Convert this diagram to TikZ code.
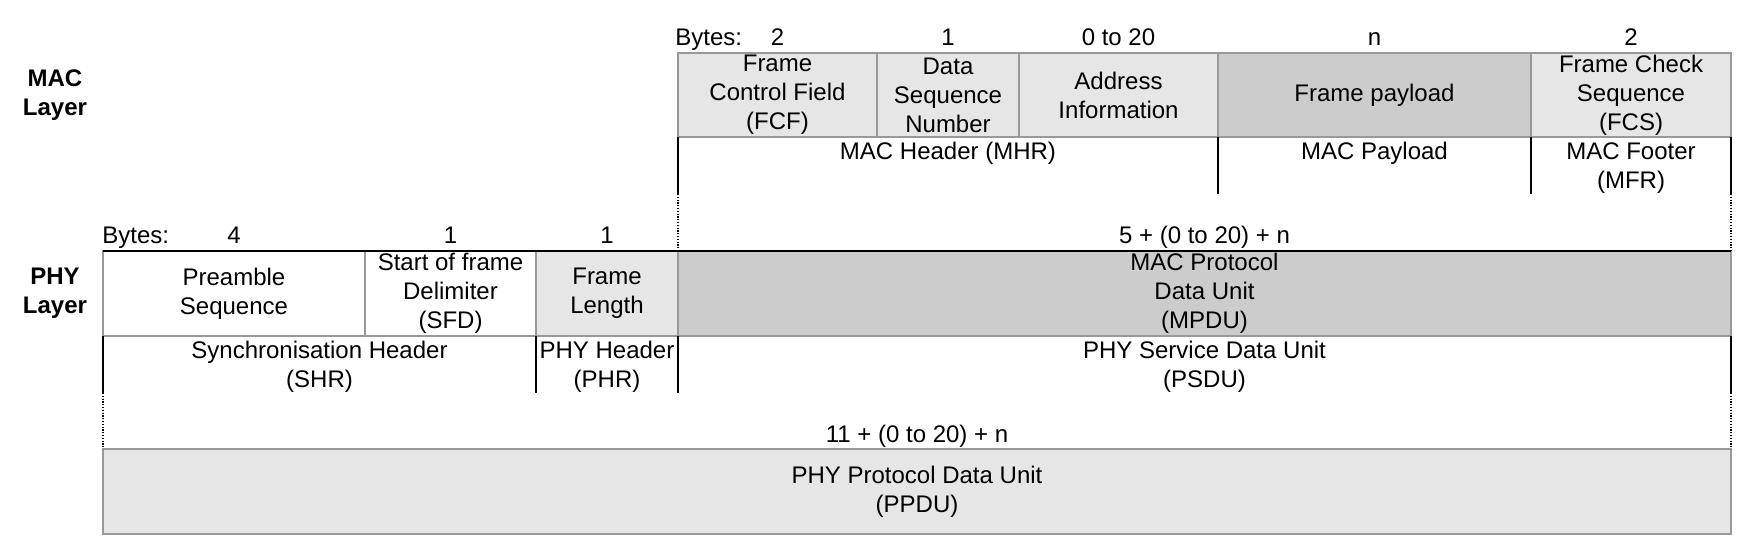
\documentclass[tikz,border=0pt]{standalone}
\usepackage{fontspec}
\setmainfont{Liberation Sans}
\usepackage{tikz}
\usetikzlibrary{positioning,calc}
\definecolor{lgray}{HTML}{E6E6E6}
\definecolor{dgray}{HTML}{CCCCCC}
\definecolor{rulegray}{HTML}{999999}
\tikzset{
  fld/.style={draw=rulegray,line width=1pt,align=center,inner sep=0pt,outer sep=0pt,
              font=\fontsize{12}{14.5}\selectfont,minimum height=42pt},
  sub/.style={align=center,anchor=north,inner sep=2.5pt,font=\fontsize{12}{14.5}\selectfont},
  nb/.style={anchor=base,inner sep=0pt,font=\fontsize{12}{14.5}\selectfont},
  lyr/.style={align=center,font=\fontsize{12}{14.5}\selectfont\bfseries},
  sep/.style={line width=0.75pt},
  dots/.style={line width=0.6pt,dash pattern=on 0.6pt off 0.8pt},
}
\begin{document}
\begin{tikzpicture}[x=0.5pt,y=-0.5pt]
\useasboundingbox (0,0) rectangle (1740,545);
% layer names
\node[lyr] (maclyr) at (55,95) {MAC\\Layer};
\node[lyr] (phylyr) at (55,293) {PHY\\Layer};
% MAC frame
\node[fld,fill=lgray,minimum width=99.5pt,anchor=north west] (fcf) at (678,53)
  {Frame\\Control Field\\(FCF)};
\node[fld,fill=lgray,right=0pt of fcf,minimum width=71pt] (dsn) {Data\\Sequence\\Number};
\node[fld,fill=lgray,right=0pt of dsn,minimum width=99.5pt] (addr) {Address\\Information};
\node[fld,fill=dgray,right=0pt of addr,minimum width=156.5pt] (pay) {Frame payload};
\node[fld,fill=lgray,right=0pt of pay,minimum width=100pt] (fcs) {Frame Check\\Sequence\\(FCS)};
\node[above=3.5pt of fcf.north west,nb,anchor=base west,xshift=-1.5pt] (bmac) {Bytes:};
\node[above=3.5pt of fcf.north,nb] (bfcf) {2};
\node[above=3.5pt of dsn.north,nb] (bdsn) {1};
\node[above=3.5pt of addr.north,nb] (baddr) {0 to 20};
\node[above=3.5pt of pay.north,nb] (bpay) {n};
\node[above=3.5pt of fcs.north,nb] (bfcs) {2};
\node[sub] (mhr) at ($(fcf.south west)!.5!(addr.south east)$) {MAC Header (MHR)};
\node[sub] (mpay) at (pay.south) {MAC Payload};
\node[sub] (mfr) at (fcs.south) {MAC Footer\\(MFR)};
% PHY frame
\node[fld,fill=dgray,below=57pt of fcf.south west,anchor=north west,minimum width=526.5pt,
      minimum height=42.5pt] (mpdu) {MAC Protocol\\Data Unit\\(MPDU)};
\node[fld,fill=lgray,left=0pt of mpdu,minimum width=71pt,minimum height=42.5pt] (flen) {Frame\\Length};
\node[fld,fill=white,left=0pt of flen,minimum width=85.5pt,minimum height=42.5pt] (sfd)
  {Start of frame\\Delimiter\\(SFD)};
\node[fld,fill=white,left=0pt of sfd,minimum width=131pt,minimum height=42.5pt] (pre) {Preamble\\Sequence};
\draw[sep] (pre.north west) -- (mpdu.north east);
\node[above=3.5pt of pre.north west,nb,anchor=base west,xshift=-0.5pt] (bphy) {Bytes:};
\node[above=3.5pt of pre.north,nb] (bpre) {4};
\node[above=3.5pt of sfd.north,nb] (bsfd) {1};
\node[above=3.5pt of flen.north,nb] (bflen) {1};
\node[above=3.5pt of mpdu.north,nb] (bmpdu) {5 + (0 to 20) + n};
\node[sub] (shr) at ($(pre.south west)!.5!(sfd.south east)$) {Synchronisation Header\\(SHR)};
\node[sub] (phr) at (flen.south) {PHY Header\\(PHR)};
\node[sub] (psdu) at (mpdu.south) {PHY Service Data Unit\\(PSDU)};
% PPDU
\node[fld,fill=lgray,below=56.5pt of pre.south west,anchor=north west,minimum width=814pt,
      minimum height=42.5pt] (ppdu) {PHY Protocol Data Unit\\(PPDU)};
\node[above=3.5pt of ppdu.north,nb] (bppdu) {11 + (0 to 20) + n};
% separators
\foreach \a/\n in {fcf.south west/ma,pay.south west/mb,fcs.south west/mc,fcs.south east/md}
  \draw[sep] (\a) -- ++(0,57) coordinate (\n);
\foreach \a/\n in {pre.south west/pa,flen.south west/pb,mpdu.south west/pc,mpdu.south east/pd}
  \draw[sep] (\a) -- ++(0,57) coordinate (\n);
\draw[dots] (ma) -- (mpdu.north west);
\draw[dots] (md) -- (mpdu.north east);
\draw[dots] (pa) -- (ppdu.north west);
\draw[dots] (pd) -- (ppdu.north east);
\end{tikzpicture}
\end{document}
